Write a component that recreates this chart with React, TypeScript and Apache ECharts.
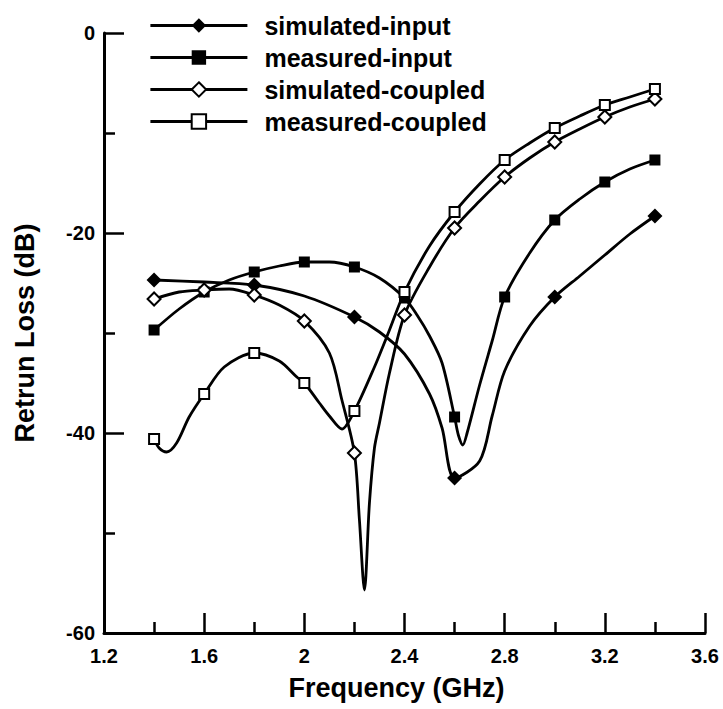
import React, { useEffect, useRef } from "react";
import * as echarts from "echarts";

// Frequencies (GHz) and return loss (dB)
const simInputFreq = [1.4, 1.6, 1.8, 2.0, 2.2, 2.3, 2.4, 2.5, 2.55, 2.6, 2.7, 2.75, 2.8, 2.9, 3.0, 3.1, 3.2, 3.3, 3.4];
const simInputDb = [-24.7, -24.9, -25.2, -26.3, -28.4, -29.9, -32.1, -36.1, -39.5, -44.5, -42.8, -38.3, -33.8, -29.3, -26.4, -24.3, -22.2, -20.1, -18.3];
const simInputMarkers = [1.4, 1.8, 2.2, 2.6, 3.0, 3.4];

const measInputFreq = [1.4, 1.5, 1.6, 1.7, 1.8, 1.9, 2.0, 2.1, 2.2, 2.3, 2.4, 2.45, 2.5, 2.55, 2.6, 2.615, 2.633, 2.65, 2.7, 2.75, 2.8, 2.9, 3.0, 3.1, 3.2, 3.3, 3.4];
const measInputDb = [-29.7, -27.6, -25.9, -24.7, -23.9, -23.3, -22.9, -22.9, -23.4, -24.5, -26.5, -28.2, -30.3, -33.0, -38.4, -40.2, -41.2, -40.0, -35.2, -30.8, -26.4, -22.0, -18.7, -16.6, -14.9, -13.6, -12.7];
const measInputMarkers = [1.4, 1.6, 1.8, 2.0, 2.2, 2.4, 2.6, 2.8, 3.0, 3.2, 3.4];

const simCoupFreq = [1.4, 1.5, 1.6, 1.7, 1.8, 1.9, 2.0, 2.1, 2.15, 2.2, 2.22, 2.24, 2.26, 2.28, 2.3, 2.34, 2.4, 2.5, 2.6, 2.7, 2.8, 2.9, 3.0, 3.1, 3.2, 3.3, 3.4];
const simCoupDb = [-26.6, -25.9, -25.7, -25.6, -26.2, -27.2, -28.8, -32.0, -36.7, -42.0, -48.7, -55.7, -47.0, -41.5, -39.0, -34.0, -28.2, -23.4, -19.5, -16.8, -14.4, -12.5, -10.9, -9.6, -8.4, -7.4, -6.6];
const simCoupMarkers = [1.4, 1.6, 1.8, 2.0, 2.2, 2.4, 2.6, 2.8, 3.0, 3.2, 3.4];

const measCoupFreq = [1.4, 1.42, 1.45, 1.49, 1.54, 1.6, 1.68, 1.8, 1.9, 1.97, 2.0, 2.06, 2.1, 2.15, 2.2, 2.28, 2.34, 2.4, 2.5, 2.6, 2.7, 2.8, 2.9, 3.0, 3.1, 3.2, 3.3, 3.4];
const measCoupDb = [-40.6, -41.5, -41.9, -41.0, -38.4, -36.1, -33.4, -32.0, -32.8, -34.4, -35.0, -37.0, -38.3, -39.6, -37.8, -33.4, -29.7, -25.9, -21.3, -17.9, -15.1, -12.7, -11.0, -9.5, -8.3, -7.2, -6.4, -5.6];
const measCoupMarkers = [1.4, 1.6, 1.8, 2.0, 2.2, 2.4, 2.6, 2.8, 3.0, 3.2, 3.4];

const seriesNames = ["simulated-input", "measured-input", "simulated-coupled", "measured-coupled"];

const FONT = "Arial, 'Liberation Sans', Helvetica, sans-serif";

function buildData(freq: number[], db: number[], markers: number[]) {
  return freq.map((f, i) =>
    markers.some((m) => Math.abs(m - f) < 1e-6)
      ? { value: [f, db[i]] }
      : { value: [f, db[i]], symbol: "none" }
  );
}

export default function App() {
  const ref = useRef<HTMLDivElement>(null);
  useEffect(() => {
    if (!ref.current) return;
    const chart = echarts.init(ref.current, null, { renderer: "svg" });
    const lineStyle = { color: "#000", width: 2.8 };
    const mk = (name: string, freq: number[], db: number[], markers: number[], symbol: string, size: number) => ({
      type: "line",
      name,
      data: buildData(freq, db, markers),
      symbol,
      symbolSize: size,
      showAllSymbol: true,
      smooth: 0.3,
      lineStyle,
      itemStyle: { color: "#000", borderWidth: 0 },
      emphasis: { disabled: true },
    });
    const titleStyle = { fontFamily: FONT, fontSize: 27, fontWeight: "bold", color: "#000" };
    chart.setOption({
      animation: false,
      backgroundColor: "#fff",
      grid: { left: 104, top: 33, right: 18, bottom: 76, containLabel: false },
      legend: {
        orient: "vertical",
        left: 144,
        top: 8,
        itemWidth: 97,
        itemHeight: 18,
        itemGap: 7,
        data: seriesNames,
        lineStyle: { width: 2.8, color: "#000" },
        textStyle: {
          fontFamily: FONT,
          fontSize: 25,
          fontWeight: "bold",
          color: "#000",
          padding: [0, 0, 0, 12],
        },
      },
      xAxis: {
        type: "value",
        min: 1.2,
        max: 3.6,
        interval: 0.4,
        name: "Frequency (GHz)",
        nameLocation: "middle",
        nameGap: 41,
        nameTextStyle: { ...titleStyle, padding: [0, 16, 0, 0] },
        axisLine: { onZero: false, lineStyle: { color: "#000", width: 3 } },
        axisTick: { inside: true, length: 20, lineStyle: { color: "#000", width: 2.5 } },
        minorTick: { show: true, splitNumber: 2, length: 11, lineStyle: { color: "#000", width: 2.5 } },
        axisLabel: { fontFamily: FONT, fontSize: 20, fontWeight: "bold", color: "#000", margin: 13 },
        splitLine: { show: false },
      },
      yAxis: {
        type: "value",
        min: -60,
        max: 0,
        interval: 20,
        name: "Retrun Loss (dB)",
        nameLocation: "middle",
        nameGap: 66,
        nameTextStyle: titleStyle,
        axisLine: { onZero: false, lineStyle: { color: "#000", width: 3 } },
        axisTick: { inside: true, length: 20, lineStyle: { color: "#000", width: 2.5 } },
        minorTick: { show: true, splitNumber: 2, length: 11, lineStyle: { color: "#000", width: 2.5 } },
        axisLabel: { fontFamily: FONT, fontSize: 20, fontWeight: "bold", color: "#000", margin: 9 },
        splitLine: { show: false },
      },
      series: [
        mk(seriesNames[0], simInputFreq, simInputDb, simInputMarkers, "diamond", 15),
        mk(seriesNames[1], measInputFreq, measInputDb, measInputMarkers, "rect", 11),
        mk(seriesNames[2], simCoupFreq, simCoupDb, simCoupMarkers, "emptyDiamond", 13),
        mk(seriesNames[3], measCoupFreq, measCoupDb, measCoupMarkers, "emptyRect", 10),
      ],
    });
    return () => chart.dispose();
  }, []);
  return (
    <div
      ref={ref}
      style={{ position: "fixed", left: 0, top: 0, width: 723, height: 709, background: "#fff" }}
    />
  );
}
